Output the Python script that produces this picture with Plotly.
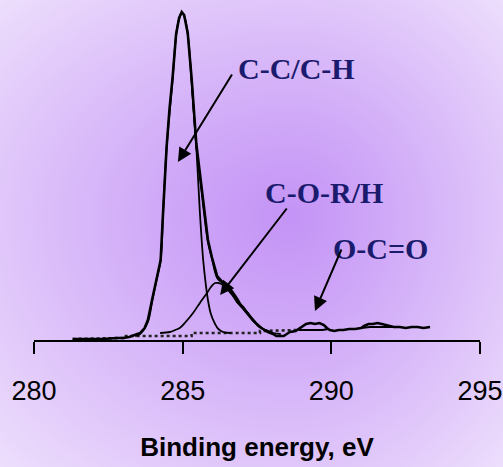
import base64
import struct
import zlib
import plotly.graph_objects as go

# ---------------- data ----------------
# measured C1s spectrum
spec_e = [281.3, 281.8, 282.3, 282.8, 283.0, 283.2, 283.4, 283.57, 283.72, 283.83, 283.97,
          284.1, 284.26, 284.34, 284.46, 284.56, 284.66, 284.78, 284.88, 284.97, 285.05,
          285.17, 285.30, 285.46, 285.60, 285.72, 285.85, 285.98, 286.16, 286.31, 286.5,
          286.69, 286.85, 287.03, 287.2, 287.37, 287.55, 287.70, 287.87, 288.04, 288.15,
          288.27, 288.4, 288.5, 288.61, 288.8, 288.95, 289.05, 289.15, 289.3, 289.45,
          289.6, 289.75, 289.85, 289.95, 290.1, 290.25, 290.4, 290.6, 290.8, 291.0,
          291.1, 291.25, 291.4, 291.55, 291.7, 291.85, 291.95, 292.1, 292.3, 292.5,
          292.7, 292.9, 293.1, 293.32]
spec_i = [1, 1, 1, 2, 2, 3, 5, 7, 12, 20, 40,
          58, 80, 127, 193, 232, 262, 306, 322, 328, 325,
          307, 262, 196, 160, 129, 100, 83, 64, 59, 53,
          46, 38, 33, 26, 20, 14, 11, 8, 6, 4,
          4, 4, 6, 8, 9, 12, 14, 16, 17, 16,
          17, 15, 12, 10, 9, 10, 10, 11, 11, 12,
          14, 16, 16, 17, 16, 15, 14, 13, 13, 12,
          13, 13, 12, 13]

# fitted envelope (slightly off the measured trace on the high-energy side)
fit_e = [285.3, 285.46, 285.6, 285.72, 285.85, 285.98, 286.16, 286.31, 286.5, 286.69,
         286.85, 287.03, 287.2, 287.37, 287.55, 287.70, 287.87, 288.04, 288.3]
fit_i = [262, 194, 158, 127, 98, 82, 62, 58, 55, 48,
         41, 32, 27, 19, 15, 11, 9, 7, 6]

# C-C / C-H component
cc_e = [283.4, 283.57, 283.83, 283.97, 284.1, 284.26, 284.34, 284.46, 284.66, 284.78,
        284.88, 284.97, 285.05, 285.17, 285.30, 285.46, 285.58, 285.69, 285.78, 285.85,
        285.95, 286.09, 286.2, 286.36, 286.6]
cc_i = [4, 6, 18, 38, 57, 80, 126, 192, 260, 305,
        321, 327, 324, 306, 258, 192, 127, 80, 55, 40,
        26, 16, 11, 8, 7]

# C-O-R / C-O-H component
co_e = [284.24, 284.57, 284.75, 284.9, 285.1, 285.35, 285.6, 285.82, 285.95, 286.09,
        286.2, 286.3, 286.5, 286.69, 286.85, 287.03, 287.2, 287.37, 287.55, 287.70,
        287.87, 288.04]
co_i = [7, 8, 10, 12, 18, 27, 38, 47, 53, 57,
        57, 56, 51, 44, 37, 31, 25, 19, 14, 11,
        9, 7]

# O-C=O component bottom edge and shake-up region bottom edge
oco_e = [288.9, 289.1, 289.4, 289.7, 289.9]
oco_i = [10, 10, 10, 10, 11]
su_e = [291.0, 291.3, 291.6, 291.9, 292.1]
su_i = [12, 13, 13, 13, 13]

# Shirley background (stepped)
bg_e = [281.3, 283.0, 283.0, 285.3, 285.3, 287.6, 287.6, 288.9]
bg_i = [1, 2, 4, 4, 7, 7, 9, 10]

tick_vals = [280, 285, 290, 295]
tick_text = ["280", "285", "290", "295"]
x_title = "Binding energy, eV"

label_text = ["C-C/C-H", "C-O-R/H", "O-C=O"]
label_e = [286.79, 287.70, 289.99]
label_i = [272, 148, 92]
arrow_tail_e = [286.69, 288.54, 290.36]
arrow_tail_i = [267, 133, 92]
arrow_head_e = [284.84, 286.26, 289.45]
arrow_head_i = [178, 45, 29]

# ---------------- background gradient image ----------------
W, H = 503, 467


def gradient_png():
    cx, cy = 290.0, 215.0
    edge = (237, 222, 252)
    cen = (196, 148, 246)
    rows = []
    for y in range(H):
        ty = (cy - y) / cy if y < cy else (y - cy) / (H - cy)
        row = bytearray([0])
        for x in range(W):
            tx = (cx - x) / cx if x < cx else (x - cx) / (W - cx)
            t = ((tx * tx + ty * ty) / 2.0) ** 0.5
            t = min(1.0, t) ** 1.1
            row += bytes(int(round(cen[k] + (edge[k] - cen[k]) * t)) for k in range(3))
        rows.append(bytes(row))
    raw = b"".join(rows)

    def chunk(tag, data):
        return (struct.pack(">I", len(data)) + tag + data
                + struct.pack(">I", zlib.crc32(tag + data) & 0xFFFFFFFF))

    png = (b"\x89PNG\r\n\x1a\n"
           + chunk(b"IHDR", struct.pack(">IIBBBBB", W, H, 8, 2, 0, 0, 0))
           + chunk(b"IDAT", zlib.compress(raw, 9))
           + chunk(b"IEND", b""))
    return "data:image/png;base64," + base64.b64encode(png).decode()


# ---------------- figure ----------------
fig = go.Figure()

fig.add_trace(go.Scatter(x=bg_e, y=bg_i, mode="lines",
                         line=dict(color="#222222", width=2.6, dash="dot")))
fig.add_trace(go.Scatter(x=oco_e, y=oco_i, mode="lines",
                         line=dict(color="black", width=2)))
fig.add_trace(go.Scatter(x=su_e, y=su_i, mode="lines",
                         line=dict(color="black", width=2)))
fig.add_trace(go.Scatter(x=cc_e, y=cc_i, mode="lines", line_shape="spline",
                         line=dict(color="black", width=1.8)))
fig.add_trace(go.Scatter(x=co_e, y=co_i, mode="lines", line_shape="spline",
                         line=dict(color="black", width=1.8)))
fig.add_trace(go.Scatter(x=fit_e, y=fit_i, mode="lines", line_shape="spline",
                         line=dict(color="black", width=1.8)))
fig.add_trace(go.Scatter(x=spec_e, y=spec_i, mode="lines",
                         line=dict(color="black", width=2.6)))

for t, e, i in zip(label_text, label_e, label_i):
    fig.add_annotation(x=e, y=i, text="<b>%s</b>" % t, showarrow=False,
                       xanchor="left", yanchor="middle",
                       font=dict(family="Liberation Serif", size=30, color="#1b1b6e"))

for te, ti, he, hi in zip(arrow_tail_e, arrow_tail_i, arrow_head_e, arrow_head_i):
    fig.add_annotation(x=he, y=hi, ax=te, ay=ti, xref="x", yref="y",
                       axref="x", ayref="y", text="", showarrow=True,
                       arrowhead=2, arrowsize=1.4, arrowwidth=2,
                       arrowcolor="black", standoff=0, startstandoff=0)

sans = "Liberation Sans"

fig.update_layout(
    width=W, height=H,
    margin=dict(l=0, r=0, t=0, b=0),
    paper_bgcolor="#ecdcfc",
    plot_bgcolor="rgba(0,0,0,0)",
    showlegend=False,
    images=[dict(source=gradient_png(), xref="paper", yref="paper",
                 x=0, y=1, sizex=1, sizey=1, sizing="stretch",
                 xanchor="left", yanchor="top", layer="below")],
    xaxis=dict(domain=[34 / W, 480 / W], range=[280, 295],
               tickvals=tick_vals, ticktext=tick_text,
               showline=True, linecolor="black", linewidth=2,
               ticks="outside", ticklen=12, tickwidth=2, tickcolor="black",
               ticklabelstandoff=14,
               tickfont=dict(family=sans, size=27, color="black"),
               showgrid=False, zeroline=False, automargin=False,
               title=dict(text="<b>%s</b>" % x_title, standoff=32,
                          font=dict(family=sans, size=26, color="black"))),
    yaxis=dict(domain=[127 / H, 1], range=[0, 340], visible=False,
               showgrid=False, zeroline=False),
)

fig.write_html("out.html")
